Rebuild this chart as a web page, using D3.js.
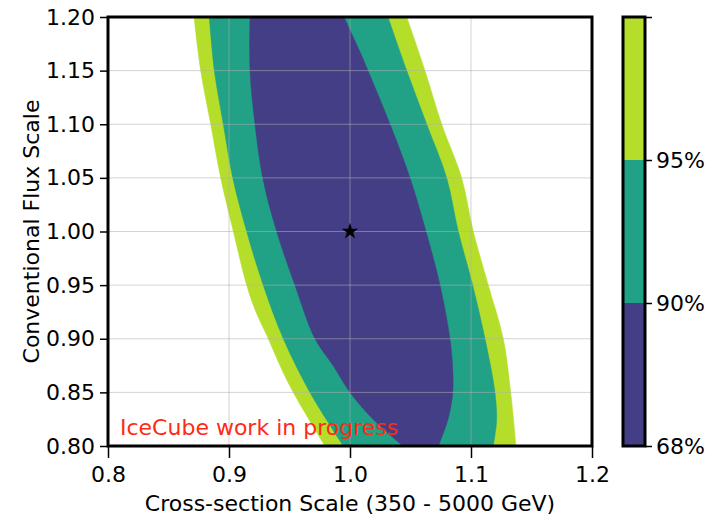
<!DOCTYPE html>
<html>
<head>
<meta charset="utf-8">
<script src="https://cdn.jsdelivr.net/npm/d3@7"></script>
<style>
  html, body { margin: 0; padding: 0; background: #fff; }
  svg { display: block; }
  text { font-family: "DejaVu Sans", sans-serif; fill: #000; }
</style>
</head>
<body>
<svg id="chart" width="712" height="516"></svg>
<script>
// ---------------- data ----------------
const xTicks = [0.8, 0.9, 1.0, 1.1, 1.2];
const yTicks = [0.80, 0.85, 0.90, 0.95, 1.00, 1.05, 1.10, 1.15, 1.20];
const levelLabels = ["68%", "90%", "95%"];
const levelColors = ["#433e85", "#21a186", "#b5de2b"];
const bestFit = [1.0, 1.0];

// 95% region boundaries [x, y]
const c95Left = [[0.8711,1.20],[0.8766,1.15],[0.8849,1.10],[0.8931,1.05],[0.9036,1.00],[0.9146,0.95],[0.9223,0.925],[0.9325,0.90],[0.9421,0.875],[0.9531,0.85],[0.9793,0.80]];
const c95Right = [[1.0469,1.20],[1.0620,1.15],[1.0758,1.10],[1.0923,1.05],[1.1019,1.00],[1.1143,0.95],[1.1267,0.90],[1.1328,0.85],[1.1372,0.80]];
// 90% region boundaries
const c90Left = [[0.8837,1.20],[0.8879,1.15],[0.8953,1.10],[0.9031,1.05],[0.9146,1.00],[0.9283,0.95],[0.9449,0.90],[0.9669,0.85],[0.9945,0.80]];
const c90Right = [[1.0314,1.20],[1.0469,1.15],[1.0634,1.10],[1.0799,1.05],[1.0895,1.00],[1.1014,0.95],[1.1116,0.90],[1.1198,0.85],[1.1212,0.825],[1.1198,0.81],[1.1184,0.80]];
// 68% region boundaries
const c68Left = [[0.9174,1.20],[0.9174,1.15],[0.9215,1.10],[0.9279,1.05],[0.9394,1.00],[0.9545,0.95],[0.9711,0.90],[0.9860,0.875],[1.0000,0.85],[1.0190,0.825],[1.0438,0.80]];
const c68Right = [[0.9950,1.20],[1.0083,1.1674],[1.0149,1.15],[1.0331,1.10],[1.0496,1.05],[1.0628,1.00],[1.0744,0.95],[1.0826,0.90],[1.0847,0.875],[1.0849,0.85],[1.0810,0.825],[1.0730,0.80]];

const regions = [
  { left: c95Left, right: c95Right, color: levelColors[2] },
  { left: c90Left, right: c90Right, color: levelColors[1] },
  { left: c68Left, right: c68Right, color: levelColors[0] }
];

// ---------------- layout ----------------
const FS = 22;
const svg = d3.select("#chart");
const L = 108, R = 592, T = 17, B = 446;
const x = d3.scaleLinear().domain([0.8, 1.2]).range([L, R]);
const y = d3.scaleLinear().domain([0.8, 1.2]).range([B, T]);

svg.append("defs").append("clipPath").attr("id", "clip")
  .append("rect").attr("x", L).attr("y", T).attr("width", R - L).attr("height", B - T);

const plot = svg.append("g").attr("clip-path", "url(#clip)");
const side = d3.line().x(d => x(d[0])).y(d => y(d[1])).curve(d3.curveCatmullRom.alpha(0.5));

regions.forEach(r => {
  const leftPath = side(r.left);
  const rightPath = side(r.right.slice().reverse()).replace(/^M/, "L");
  plot.append("path").attr("d", leftPath + rightPath + "Z")
    .attr("fill", r.color).attr("stroke", r.color).attr("stroke-width", 0.5);
});

// grid
const grid = svg.append("g").attr("stroke", "#b0b0b0").attr("stroke-opacity", 0.55).attr("stroke-width", 1);
xTicks.forEach(t => grid.append("line").attr("x1", x(t)).attr("x2", x(t)).attr("y1", T).attr("y2", B));
yTicks.forEach(t => grid.append("line").attr("x1", L).attr("x2", R).attr("y1", y(t)).attr("y2", y(t)));

// best fit star
svg.append("path")
  .attr("d", d3.symbol().type(d3.symbolStar).size(85)())
  .attr("transform", `translate(${x(bestFit[0])},${y(bestFit[1])})`)
  .attr("fill", "#000");

// watermark
svg.append("text").attr("x", 120).attr("y", 435)
  .attr("font-size", FS).style("fill", "#ff2a14").text("IceCube work in progress");

// axes
const xAxis = svg.append("g").attr("transform", `translate(0,${B})`)
  .call(d3.axisBottom(x).tickValues(xTicks).tickFormat(d3.format(".1f")).tickSize(12).tickPadding(8));
const yAxis = svg.append("g").attr("transform", `translate(${L},0)`)
  .call(d3.axisLeft(y).tickValues(yTicks).tickFormat(d3.format(".2f")).tickSize(8).tickPadding(5));
[xAxis, yAxis].forEach(a => {
  a.select(".domain").remove();
  a.selectAll(".tick line").attr("stroke", "#000").attr("stroke-width", 1.5);
  a.selectAll(".tick text").attr("font-size", FS).style("font-family", "DejaVu Sans, sans-serif");
});

// spines
svg.append("rect").attr("x", L).attr("y", T).attr("width", R - L).attr("height", B - T)
  .attr("fill", "none").attr("stroke", "#000").attr("stroke-width", 3);

// axis labels
svg.append("text").attr("x", (L + R) / 2).attr("y", 511).attr("text-anchor", "middle")
  .attr("font-size", FS).text("Cross-section Scale (350 - 5000 GeV)");
svg.append("text").attr("transform", `translate(39,${(T + B) / 2}) rotate(-90)`)
  .attr("text-anchor", "middle").attr("font-size", FS).text("Conventional Flux Scale");

// colorbar
const cbL = 623, cbW = 22;
const cbScale = d3.scaleLinear().domain([0, 3]).range([B, T]);
levelColors.forEach((c, i) => {
  svg.append("rect").attr("x", cbL).attr("y", cbScale(i + 1)).attr("width", cbW)
    .attr("height", cbScale(i) - cbScale(i + 1)).attr("fill", c);
});
svg.append("rect").attr("x", cbL).attr("y", T).attr("width", cbW).attr("height", B - T)
  .attr("fill", "none").attr("stroke", "#000").attr("stroke-width", 3);
const cbAxis = svg.append("g").attr("transform", `translate(${cbL + cbW},0)`)
  .call(d3.axisRight(cbScale).tickValues([0, 1, 2, 3]).tickFormat(i => levelLabels[i] || "").tickSize(7).tickPadding(4));
cbAxis.select(".domain").remove();
cbAxis.selectAll(".tick line").attr("stroke", "#000").attr("stroke-width", 1.5);
cbAxis.selectAll(".tick text").attr("font-size", FS).style("font-family", "DejaVu Sans, sans-serif");
</script>
</body>
</html>
